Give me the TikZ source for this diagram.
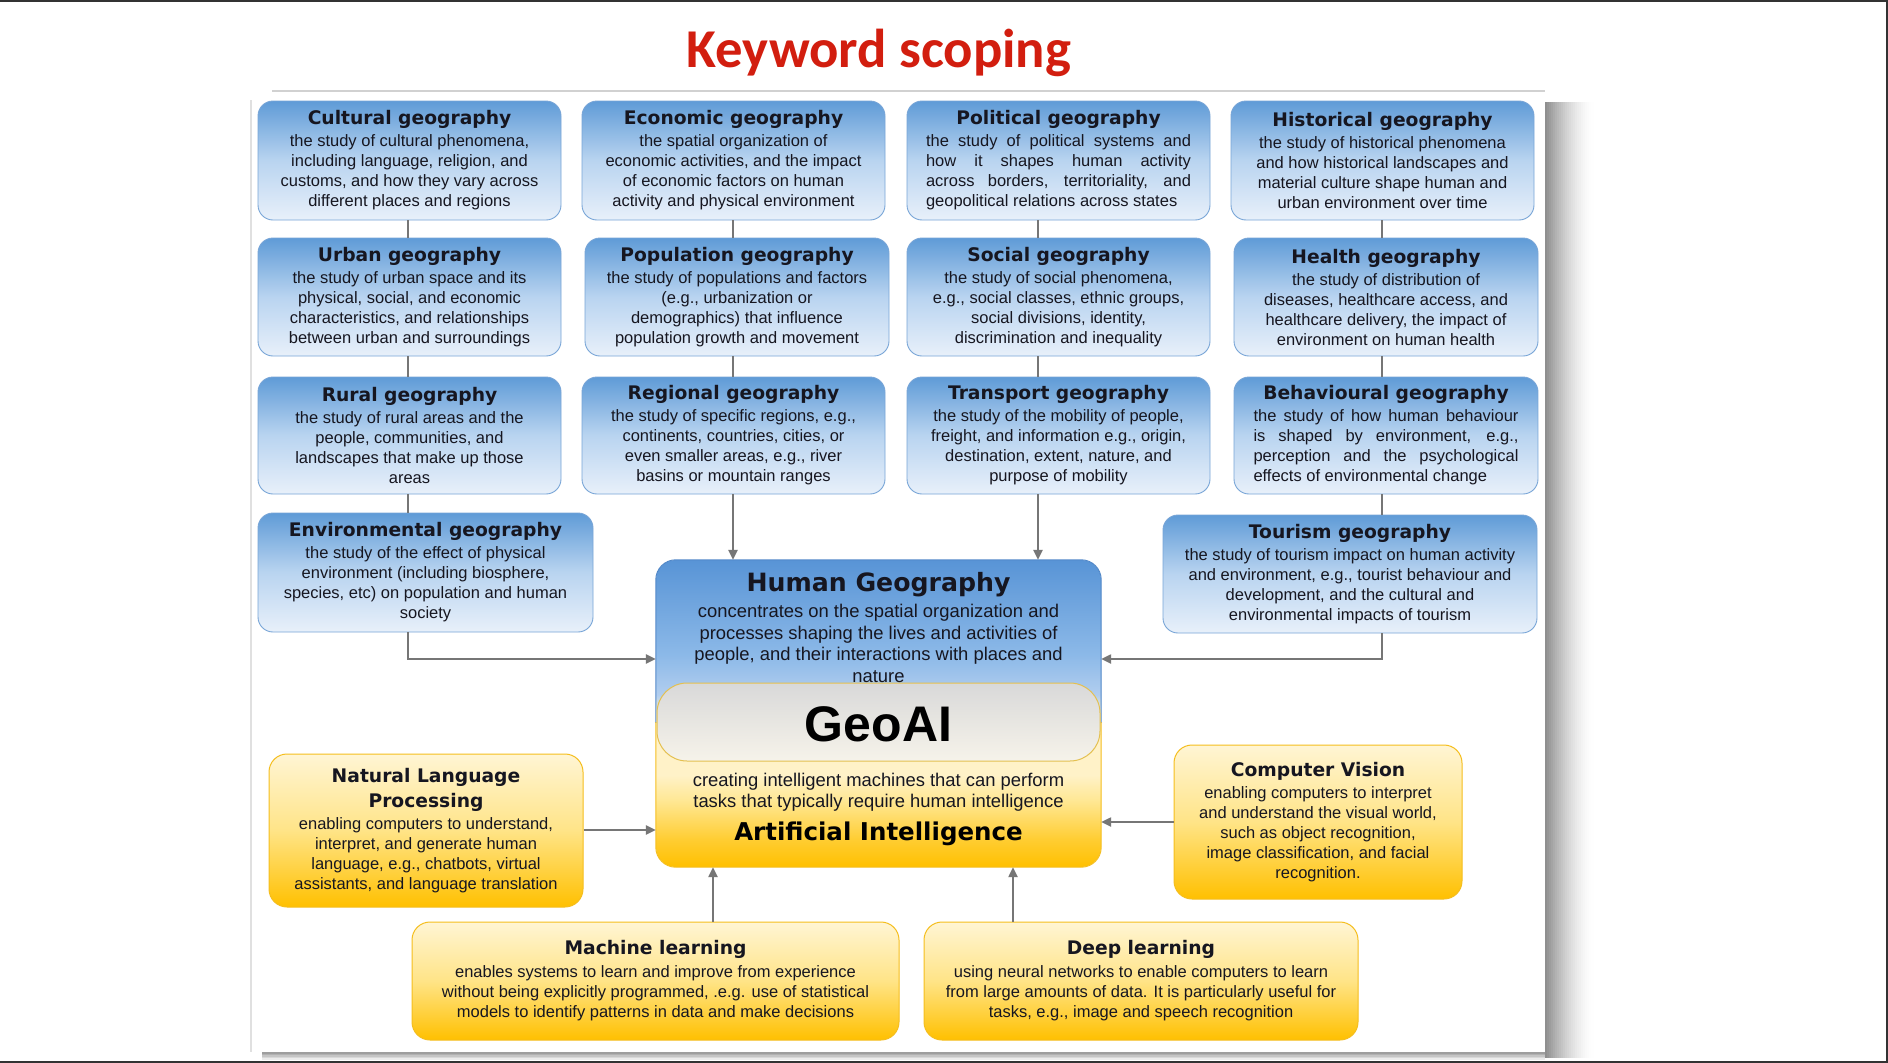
\documentclass[tikz,border=0pt]{standalone}
\usepackage{fontspec}
\setmainfont{Liberation Sans}
\newfontfamily\dejavu{DejaVu Sans}
\newfontfamily\carlito{Carlito}
\usetikzlibrary{arrows.meta,calc}

\definecolor{kwred}{RGB}{210,30,15}
\definecolor{txt}{RGB}{22,22,32}
\definecolor{blueT}{RGB}{95,155,215}
\definecolor{blueM}{RGB}{185,212,240}
\definecolor{blueB}{RGB}{232,240,250}
\definecolor{bluebd}{RGB}{120,165,215}
\definecolor{yelT}{RGB}{255,245,212}
\definecolor{yelM}{RGB}{255,228,135}
\definecolor{yelB}{RGB}{255,192,0}
\definecolor{yelbd}{RGB}{245,190,30}
\definecolor{lnk}{RGB}{118,118,118}
\definecolor{blueTop}{RGB}{88,148,214}
\definecolor{blueMid}{RGB}{140,185,232}
\definecolor{blueL}{RGB}{178,206,239}
\definecolor{yelL}{RGB}{255,242,200}
\definecolor{yelMM}{RGB}{255,232,150}
\definecolor{yelD}{RGB}{255,205,50}
\definecolor{hgbd}{RGB}{80,135,200}

\pgfdeclareverticalshading{geoshade}{100bp}{color(0bp)=(yelB); color(25bp)=(yelB); color(29.5bp)=(yelD); color(36bp)=(yelMM); color(40bp)=(yelL); color(50bp)=(yelL); color(53bp)=(blueL); color(59.5bp)=(blueMid); color(75bp)=(blueTop); color(100bp)=(blueTop)}

\newcommand\ttl[1]{{\dejavu\bfseries\fontsize{18.7}{22}\selectfont #1}}
\newcommand\bodyf{\fontsize{16.5}{20}\selectfont}
\newcommand\jl[1]{\makebox[265pt][s]{#1}}
\newcommand\jll[1]{\makebox[265pt][l]{#1}}

\tikzset{
  bluebox/.style={rounded corners=15pt, draw=bluebd, line width=0.9pt,
    top color=blueT, bottom color=blueB, middle color=blueM,
    align=center, inner sep=0pt, font=\bodyf, text=txt},
  yelbox/.style={rounded corners=18pt, draw=yelbd, line width=1pt,
    top color=yelT, bottom color=yelB, middle color=yelM,
    align=center, inner sep=0pt, font=\bodyf, text=txt},
  conn/.style={draw=lnk, line width=2.3pt},
  arr/.style={conn, -{Triangle[length=10pt,width=9pt]}},
}

\begin{document}
\begin{tikzpicture}[x=1pt,y=-1pt]
\useasboundingbox (0,0) rectangle (1888,1063);
\fill[white] (0,0) rectangle (1888,1063);

% panel with shadow (stepped fade)
\foreach \i in {0,...,23}{
  \pgfmathsetmacro\g{44*(1-\i/24)^1.6}
  \fill[black!\g] ({1545+2*\i},102) rectangle ({1547.6+2*\i},1058);
}
\foreach \i in {0,...,4}{
  \pgfmathsetmacro\g{38*(1-\i/5)}
  \fill[black!\g] (262,{1052+1.6*\i}) rectangle (1545,{1053.8+1.6*\i});
}
\fill[white] (250,90) rectangle (1545,1052);
\draw[black!12, line width=1.5pt] (250.75,100) -- (250.75,1052);
\draw[black!18, line width=2.5pt] (272,91) -- (1545,91);

% title
\node[font=\carlito\bfseries\fontsize{54.7}{60}\selectfont, text=kwred, anchor=base] (title) at (879,67.5) {Keyword scoping};

% row 1
\node[bluebox, minimum width=303pt, minimum height=119pt] (cul) at (409.5,160.5)
 {\ttl{Cultural geography}\\[2pt] the study of cultural phenomena,\\ including language, religion, and\\ customs, and how they vary across\\ different places and regions};
\node[bluebox, minimum width=303pt, minimum height=119pt] (eco) at (733.5,160.5)
 {\ttl{Economic geography}\\[2pt] the spatial organization of\\ economic activities, and the impact\\ of economic factors on human\\ activity and physical environment};
\node[bluebox, minimum width=303pt, minimum height=119pt] (pol) at (1058.5,160.5)
 {\ttl{Political geography}\\[2pt] \jl{the study of political systems and}\\ \jl{how it shapes human activity}\\ \jl{across borders, territoriality, and}\\ \jll{geopolitical relations across states}};
\node[bluebox, minimum width=303pt, minimum height=119pt] (his) at (1382.5,160.5)
 {\ttl{Historical geography}\\[2pt] the study of historical phenomena\\ and how historical landscapes and\\ material culture shape human and\\ urban environment over time};

% row 2
\node[bluebox, minimum width=303pt, minimum height=118pt] (urb) at (409.5,297)
 {\ttl{Urban geography}\\[2pt] the study of urban space and its\\ physical, social, and economic\\ characteristics, and relationships\\ between urban and surroundings};
\node[bluebox, minimum width=304pt, minimum height=118pt] (pop) at (737,297)
 {\ttl{Population geography}\\[2pt] the study of populations and factors\\ (e.g., urbanization or\\ demographics) that influence\\ population growth and movement};
\node[bluebox, minimum width=303pt, minimum height=118pt] (soc) at (1058.5,297)
 {\ttl{Social geography}\\[2pt] the study of social phenomena,\\ e.g., social classes, ethnic groups,\\ social divisions, identity,\\ discrimination and inequality};
\node[bluebox, minimum width=304pt, minimum height=118pt] (hea) at (1386,297)
 {\ttl{Health geography}\\[2pt] the study of distribution of\\ diseases, healthcare access, and\\ healthcare delivery, the impact of\\ environment on human health};

% row 3
\node[bluebox, minimum width=303pt, minimum height=117pt] (rur) at (409.5,435.5)
 {\ttl{Rural geography}\\[2pt] the study of rural areas and the\\ people, communities, and\\ landscapes that make up those\\ areas};
\node[bluebox, minimum width=303pt, minimum height=117pt] (reg) at (733.5,435.5)
 {\ttl{Regional geography}\\[2pt] the study of specific regions, e.g.,\\ continents, countries, cities, or\\ even smaller areas, e.g., river\\ basins or mountain ranges};
\node[bluebox, minimum width=303pt, minimum height=117pt] (tra) at (1058.5,435.5)
 {\ttl{Transport geography}\\[2pt] the study of the mobility of people,\\ freight, and information e.g., origin,\\ destination, extent, nature, and\\ purpose of mobility};
\node[bluebox, minimum width=304pt, minimum height=117pt] (beh) at (1386,435.5)
 {\ttl{Behavioural geography}\\[2pt] \jl{the study of how human behaviour}\\ \jl{is shaped by environment, e.g.,}\\ \jl{perception and the psychological}\\ \jll{effects of environmental change}};

% row 4
\node[bluebox, minimum width=335pt, minimum height=119pt] (env) at (425.5,572.5)
 {\ttl{Environmental geography}\\[2pt] the study of the effect of physical\\ environment (including biosphere,\\ species, etc) on population and human\\ society};
\node[bluebox, minimum width=374pt, minimum height=118pt] (tou) at (1350,574)
 {\ttl{Tourism geography}\\[2pt] the study of tourism impact on human activity\\ and environment, e.g., tourist behaviour and\\ development, and the cultural and\\ environmental impacts of tourism};

% central box
\node[shade, shading=geoshade, rounded corners=20pt, minimum width=445pt, minimum height=307pt, inner sep=0pt] (hg) at (878.5,713.5) {};
\begin{scope}
  \clip (600,540) rectangle (1150,722);
  \draw[hgbd, line width=1pt, rounded corners=20pt] (hg.south west) rectangle (hg.north east);
\end{scope}
\begin{scope}
  \clip (600,722) rectangle (1150,890);
  \draw[yelbd, line width=1pt, rounded corners=20pt] (hg.south west) rectangle (hg.north east);
\end{scope}
\node[rounded corners=30pt, minimum width=443pt, minimum height=78pt, inner sep=0pt,
  top color=black!15, bottom color={rgb,255:red,246;green,243;blue,234}, draw={rgb,255:red,228;green,192;blue,80}, line width=1pt] (geoai) at (878.5,722) {};
\node[anchor=base, font=\bfseries\fontsize{50}{56}\selectfont, text=black, inner sep=0pt] (geoaitxt) at (878.5,741.7) {GeoAI};
\node[anchor=base, font=\dejavu\bfseries\fontsize{25.2}{30}\selectfont, text=txt, inner sep=0pt] (hgtitle) at (878.5,591.7) {Human Geography};
\node[anchor=north, align=center, font=\fontsize{18.4}{21.7}\selectfont, text=txt, inner sep=0pt] (hgtext) at (878.5,603.8)
 {concentrates on the spatial organization and\\ processes shaping the lives and activities of\\ people, and their interactions with places and\\ nature};
\node[anchor=north, align=center, font=\fontsize{18.4}{21.5}\selectfont, text=txt, inner sep=0pt] (aitext) at (878.5,772.7)
 {creating intelligent machines that can perform\\ tasks that typically require human intelligence};
\node[anchor=base, font=\dejavu\bfseries\fontsize{24.5}{30}\selectfont, text=black, inner sep=0pt] (aititle) at (878.5,840) {Artificial Intelligence};

% AI boxes
\node[yelbox, minimum width=314pt, minimum height=153pt] (nlp) at (426,830.5)
 {\ttl{Natural Language}\\[5pt] \ttl{Processing}\\[2pt] enabling computers to understand,\\ interpret, and generate human\\ language, e.g., chatbots, virtual\\ assistants, and language translation};
\node[yelbox, minimum width=288pt, minimum height=154pt] (cv) at (1318,822)
 {\ttl{Computer Vision}\\[2pt] enabling computers to interpret\\ and understand the visual world,\\ such as object recognition,\\ image classification, and facial\\ recognition.};
\node[yelbox, minimum width=487pt, minimum height=118pt] (ml) at (655.5,981)
 {\ttl{Machine learning}\\[3pt] enables systems to learn and improve from experience\\ without being explicitly programmed, .e.g. use of statistical\\ models to identify patterns in data and make decisions};
\node[yelbox, minimum width=434pt, minimum height=118pt] (dl) at (1141,981)
 {\ttl{Deep learning}\\[3pt] using neural networks to enable computers to learn\\ from large amounts of data. It is particularly useful for\\ tasks, e.g., image and speech recognition};

% connectors
\coordinate (c1) at (408,0);
\coordinate (c2) at (733,0);
\coordinate (c3) at (1038,0);
\coordinate (c4) at (1382,0);
\coordinate (c5) at (713,0);
\coordinate (c6) at (1013,0);
\coordinate (yA) at (0,659);
\coordinate (yN) at (0,830);
\coordinate (yC) at (0,822);

\draw[conn] (c1 |- cul.south) -- (c1 |- urb.north);
\draw[conn] (c1 |- urb.south) -- (c1 |- rur.north);
\draw[conn] (c1 |- rur.south) -- (c1 |- env.north);
\draw[arr] (c1 |- env.south) |- (hg.west |- yA);

\draw[conn] (c2 |- eco.south) -- (c2 |- pop.north);
\draw[conn] (c2 |- pop.south) -- (c2 |- reg.north);
\draw[arr] (c2 |- reg.south) -- (c2 |- hg.north);

\draw[conn] (c3 |- pol.south) -- (c3 |- soc.north);
\draw[conn] (c3 |- soc.south) -- (c3 |- tra.north);
\draw[arr] (c3 |- tra.south) -- (c3 |- hg.north);

\draw[conn] (c4 |- his.south) -- (c4 |- hea.north);
\draw[conn] (c4 |- hea.south) -- (c4 |- beh.north);
\draw[conn] (c4 |- beh.south) -- (c4 |- tou.north);
\draw[arr] (c4 |- tou.south) |- (hg.east |- yA);

\draw[arr] (nlp.east |- yN) -- (hg.west |- yN);
\draw[arr] (cv.west |- yC) -- (hg.east |- yC);
\draw[arr] (c5 |- ml.north) -- (c5 |- hg.south);
\draw[arr] (c6 |- dl.north) -- (c6 |- hg.south);

% screenshot frame
\fill[black!80] (0,0) rectangle (1888,1.5);
\fill[black!80] (1885.5,0) rectangle (1888,1063);
\fill[black!80] (0,1060.5) rectangle (1888,1063);
\end{tikzpicture}
\end{document}
